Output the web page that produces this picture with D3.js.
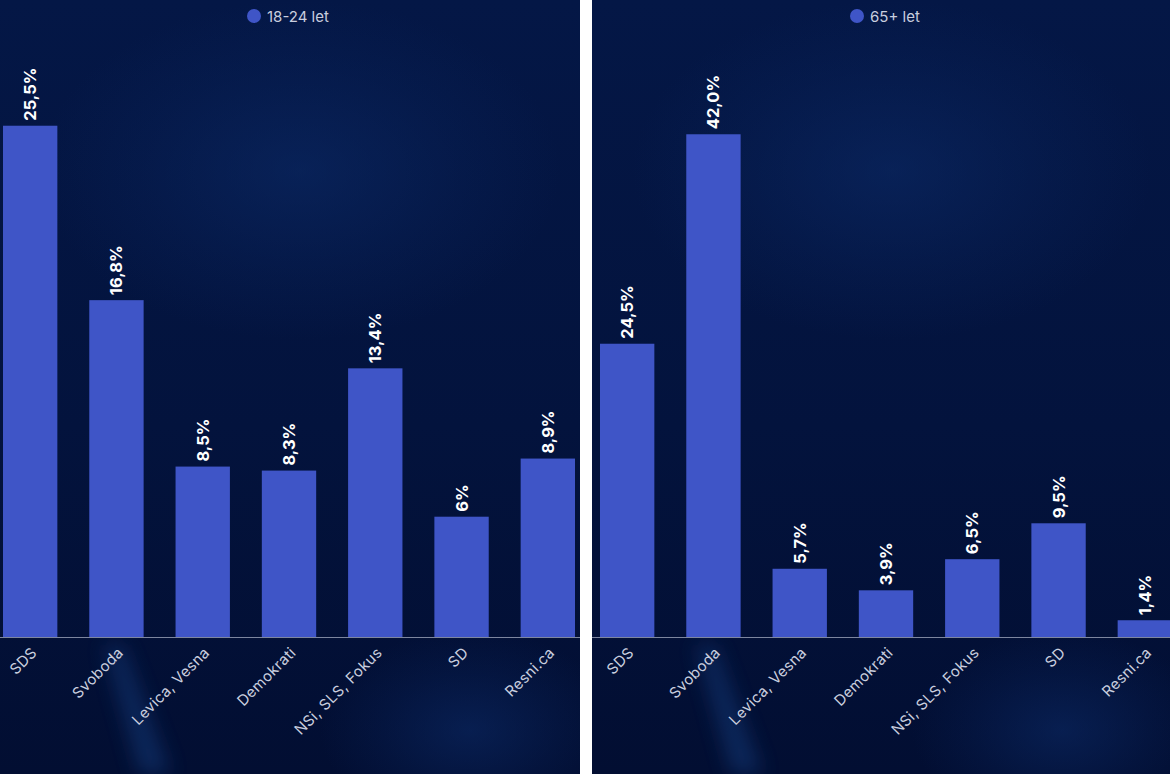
<!DOCTYPE html>
<html>
<head>
<meta charset="utf-8">
<script src="https://cdn.jsdelivr.net/npm/d3@7"></script>
<style>
  html, body { margin: 0; padding: 0; background: #ffffff; }
  svg { display: block; }
  text { font-family: Inter, "Open Sans", sans-serif; }
</style>
</head>
<body>
<svg id="chart" width="1170" height="774"></svg>
<script>
// ---- data ----
const categories = ["SDS", "Svoboda", "Levica, Vesna", "Demokrati", "NSi, SLS, Fokus", "SD", "Resni.ca"];
const values1824 = [25.5, 16.8, 8.5, 8.3, 13.4, 6, 8.9];
const labels1824 = ["25,5%", "16,8%", "8,5%", "8,3%", "13,4%", "6%", "8,9%"];
const values65 = [24.5, 42.0, 5.7, 3.9, 6.5, 9.5, 1.4];
const labels65 = ["24,5%", "42,0%", "5,7%", "3,9%", "6,5%", "9,5%", "1,4%"];
const seriesNames = ["18-24 let", "65+ let"];

const svg = d3.select("#chart");
const defs = svg.append("defs");

const barColor = "#3f55c7";

const blur2 = defs.append("filter").attr("id", "blur2").attr("x", "-100%").attr("y", "-100%").attr("width", "300%").attr("height", "300%");
blur2.append("feGaussianBlur").attr("stdDeviation", 10);

const vg = defs.append("linearGradient").attr("id", "vgrad").attr("x1", 0).attr("y1", 0).attr("x2", 0).attr("y2", 1);
vg.append("stop").attr("offset", "0%").attr("stop-color", "#041746");
vg.append("stop").attr("offset", "55%").attr("stop-color", "#03133d");
vg.append("stop").attr("offset", "100%").attr("stop-color", "#020e32");

const rg = defs.append("radialGradient").attr("id", "glow");
rg.append("stop").attr("offset", "0%").attr("stop-color", "#0c2b68").attr("stop-opacity", 0.55);
rg.append("stop").attr("offset", "60%").attr("stop-color", "#0c2b68").attr("stop-opacity", 0.2);
rg.append("stop").attr("offset", "100%").attr("stop-color", "#0c2b68").attr("stop-opacity", 0);

const panels = [
  { x0: 0, x1: 580, start: 3, values: values1824, labels: labels1824, name: seriesNames[0], yMax: 30, pxPer: 20.05, legendX: 254 },
  { x0: 592, x1: 1170, start: 600, values: values65, labels: labels65, name: seriesNames[1], yMax: 50, pxPer: 11.97, legendX: 857 }
];

const baseY = 637;

panels.forEach((p, pi) => {
  const clipId = "clip" + pi;
  defs.append("clipPath").attr("id", clipId)
    .append("rect").attr("x", p.x0).attr("y", 0).attr("width", p.x1 - p.x0).attr("height", 774);

  const g = svg.append("g").attr("clip-path", `url(#${clipId})`);

  // background
  g.append("rect").attr("x", p.x0).attr("y", 0).attr("width", p.x1 - p.x0).attr("height", 774).attr("fill", "url(#vgrad)");
  // soft glows
  g.append("ellipse").attr("cx", p.x0 + 300).attr("cy", 170).attr("rx", 260).attr("ry", 170)
    .attr("fill", "url(#glow)");
  g.append("ellipse").attr("cx", p.x0 + 470).attr("cy", 730).attr("rx", 150).attr("ry", 100)
    .attr("fill", "url(#glow)");
  // light beam at bottom
  g.append("path")
    .attr("d", `M${p.x0 + 105},645 L${p.x0 + 122},645 L${p.x0 + 170},774 L${p.x0 + 140},774 Z`)
    .attr("fill", "#1d4f9a").attr("opacity", 0.4).attr("filter", "url(#blur2)");

  const x = d3.scaleBand()
    .domain(categories)
    .range([p.start, p.start + 572])
    .paddingInner(0.37)
    .paddingOuter(0);

  const y = d3.scaleLinear()
    .domain([0, p.yMax])
    .range([baseY, baseY - p.yMax * p.pxPer]);

  const data = categories.map((c, i) => ({ c, v: p.values[i], l: p.labels[i] }));

  g.selectAll("rect.bar").data(data).join("rect")
    .attr("class", "bar")
    .attr("x", d => x(d.c))
    .attr("y", d => y(d.v))
    .attr("width", x.bandwidth())
    .attr("height", d => baseY - y(d.v))
    .attr("fill", barColor);

  // value labels
  g.selectAll("text.val").data(data).join("text")
    .attr("class", "val")
    .attr("transform", d => `translate(${x(d.c) + x.bandwidth() / 2},${y(d.v) - 5}) rotate(-90)`)
    .attr("text-anchor", "start")
    .attr("dominant-baseline", "central")
    .attr("font-size", 16.5)
    .attr("font-weight", 700)
    .attr("fill", "#ffffff")
    .text(d => d.l);

  // axis
  const axis = d3.axisBottom(x).tickSize(0).tickPadding(0);
  const ag = g.append("g").attr("transform", `translate(0,${baseY})`).call(axis);
  ag.select(".domain").remove();
  ag.append("line").attr("x1", p.x0).attr("x2", p.x1).attr("y1", 0.5).attr("y2", 0.5)
    .attr("stroke", "#7d869f").attr("stroke-width", 1.2);
  ag.selectAll(".tick text")
    .attr("transform", "translate(4,13) rotate(-45)")
    .attr("text-anchor", "end")
    .attr("dy", "0.35em")
    .attr("y", 0)
    .attr("font-size", 15)
    .attr("letter-spacing", 0.3)
    .attr("font-family", "Inter, sans-serif")
    .attr("fill", "#c9cedf");

  // legend
  const lg = g.append("g").attr("transform", `translate(${p.legendX},16)`);
  lg.append("circle").attr("r", 7).attr("fill", barColor);
  lg.append("text").attr("x", 13).attr("y", 0).attr("dominant-baseline", "central")
    .attr("font-size", 15).attr("fill", "#c9cedf").text(p.name);
});
</script>
</body>
</html>
